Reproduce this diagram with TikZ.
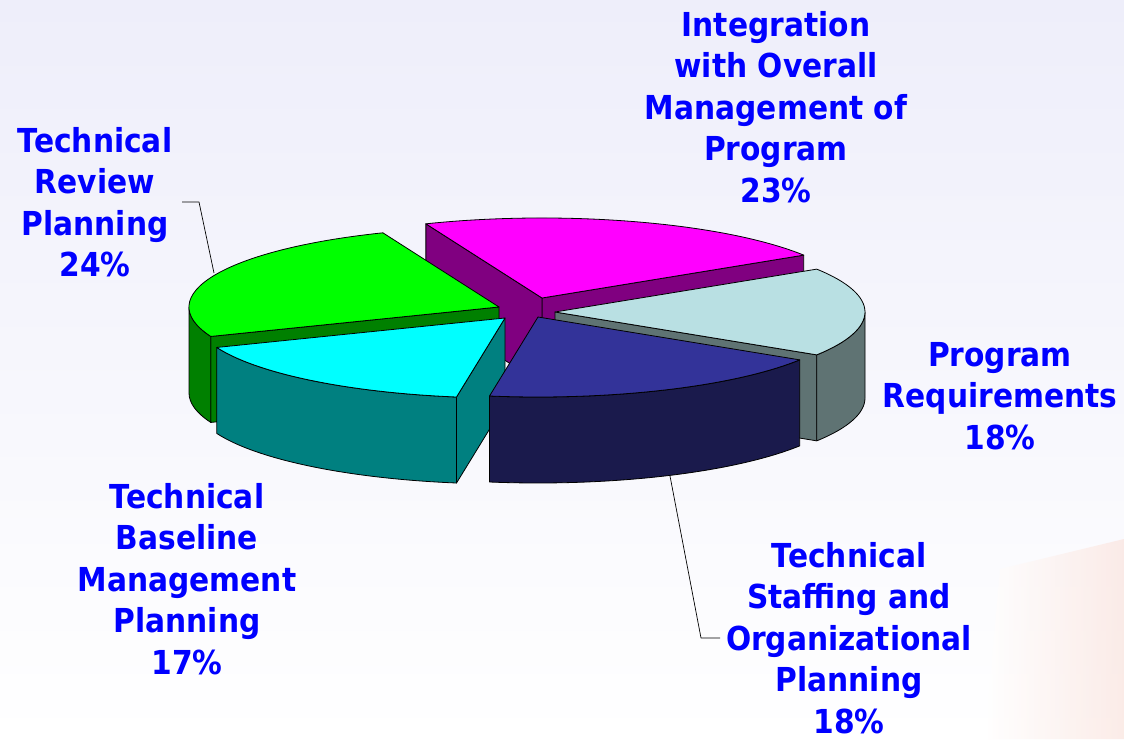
\documentclass[tikz,border=0pt]{standalone}
\usepackage{fontspec}
\newfontfamily\lblfont{DejaVu Sans}[FakeStretch=0.9]
\usetikzlibrary{calc}
\definecolor{lblblue}{RGB}{0,0,255}
\definecolor{magtop}{RGB}{255,0,255}
\definecolor{magside}{RGB}{128,0,128}
\definecolor{grntop}{RGB}{0,255,0}
\definecolor{grnside}{RGB}{0,128,0}
\definecolor{cyntop}{RGB}{0,255,255}
\definecolor{cynside}{RGB}{0,128,128}
\definecolor{navtop}{RGB}{51,51,153}
\definecolor{navside}{RGB}{26,26,76}
\definecolor{lbtop}{RGB}{185,224,227}
\definecolor{lbside}{RGB}{95,115,115}
\definecolor{lavbg}{RGB}{238,238,250}
\definecolor{peachbg}{RGB}{250,228,222}
\newcommand\slcut[3]{% tip, angle, colour
  \filldraw[facet, fill=#3] (#1) -- ++(#2:310pt and 80pt) -- ++(0,-86) -- ($(#1)+(0,-86)$) -- cycle;}
\newcommand\slside[4]{% tip, s1, s2, colour
  \filldraw[facet, fill=#4] (#1) ++(#2:310pt and 80pt)
    arc[start angle=#2, end angle=#3, x radius=310pt, y radius=80pt] -- ++(0,-86)
    arc[start angle=#3, end angle=#2, x radius=310pt, y radius=80pt] -- cycle;}
\newcommand\sltop[4]{% tip, t1, t2, colour
  \filldraw[facet, fill=#4] (#1) -- ++(#2:310pt and 80pt)
    arc[start angle=#2, end angle=#3, x radius=310pt, y radius=80pt] -- cycle;}
\begin{document}
\begin{tikzpicture}[x=1pt, y=1pt, line join=round,
  facet/.style={draw=black, line width=0.8pt},
  lbl/.style={font=\lblfont\bfseries\fontsize{33}{41.5}\selectfont, text=lblblue,
    align=center, anchor=north, inner sep=0pt},
  leader/.style={draw=black, line width=0.7pt}]
\useasboundingbox (0,0) rectangle (1124,739);
% background
\shade[top color=lavbg, bottom color=white] (0,0) rectangle (1124,739);
\shade[left color=white, right color=peachbg, opacity=0.7]
  (985,0) -- (1000,170) -- (1124,200) -- (1124,0) -- cycle;

% slice tips
\coordinate (tipM) at (542,441);
\coordinate (tipG) at (499,432);
\coordinate (tipL) at (555,427);
\coordinate (tipC) at (505,421);
\coordinate (tipN) at (538,422);

% Integration (magenta)
\slcut{tipM}{32.4}{magside}
\slcut{tipM}{112}{magside}
\sltop{tipM}{32.4}{112}{magtop}
% Technical Review Planning (green)
\slcut{tipG}{201.6}{grnside}
\slside{tipG}{180}{201.6}{grnside}
\sltop{tipG}{112}{201.6}{grntop}
% Program Requirements (light blue)
\slcut{tipL}{327.6}{lbside}
\slside{tipL}{327.6}{360}{lbside}
\sltop{tipL}{-32.4}{32.4}{lbtop}
% Technical Baseline Management Planning (cyan)
\slcut{tipC}{261}{cynside}
\slside{tipC}{201.6}{261}{cynside}
\sltop{tipC}{201.6}{261}{cyntop}
% Technical Staffing and Organizational Planning (navy)
\slside{tipN}{261}{327.6}{navside}
\sltop{tipN}{261}{327.6}{navtop}

% labels
\node[lbl] (integ) at (776,728) {Integration\\with Overall\\Management of\\Program\\23\%};
\node[lbl] (review) at (95,612) {Technical\\Review\\Planning\\24\%};
\node[lbl] (progreq) at (1000,397) {Program\\Requirements\\18\%};
\node[lbl] (baseline) at (187,256) {Technical\\Baseline\\Management\\Planning\\17\%};
\node[lbl] (staff) at (849,197) {Technical\\Staffing and\\Organizational\\Planning\\18\%};

% leader lines
\coordinate (revA) at (182,537);
\coordinate (revB) at (199,537);
\coordinate (revC) at (214,466);
\draw[leader] (revA) -- (revB) -- (revC);
\coordinate (stA) at (670,263);
\coordinate (stB) at (701,101);
\coordinate (stC) at (720,101);
\draw[leader] (stA) -- (stB) -- (stC);
\end{tikzpicture}
\end{document}
